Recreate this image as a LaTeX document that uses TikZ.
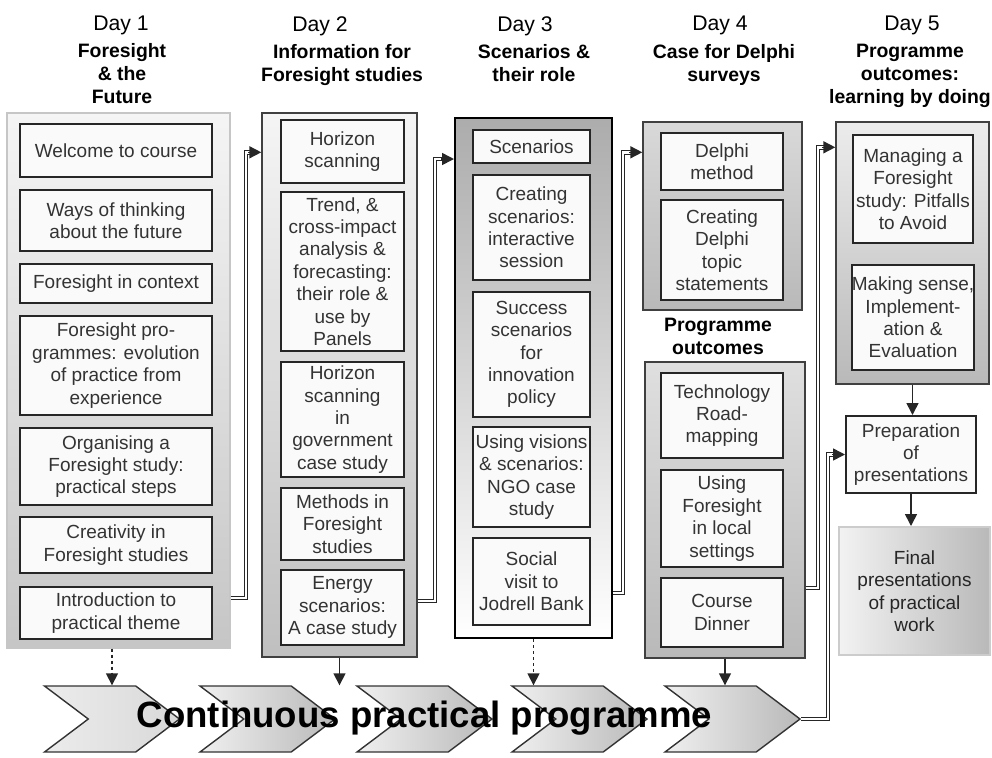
\documentclass[tikz,border=0pt]{standalone}
\usepackage{fontspec}
\setmainfont{Liberation Sans}
\usetikzlibrary{arrows.meta,positioning,shapes.symbols}

\begin{document}
\begin{tikzpicture}[
    x=0.5pt, y=-0.5pt,
    every node/.style={align=center, font=\fontsize{9.5}{11.2}\selectfont},
    panel/.style={rectangle, draw=black!75, line width=0.7pt},
    item/.style={rectangle, draw=black!85, line width=1pt, fill=gray!4, text=black!80, inner xsep=0pt, inner ysep=1pt},
    item1/.style={item, minimum width=96pt},
    item2/.style={item, minimum width=61.5pt},
    item3/.style={item, minimum width=58.5pt},
    item4/.style={item, minimum width=61pt},
    item5/.style={item, minimum width=60pt},
    dayhead/.style={anchor=north, inner sep=0pt, font=\fontsize{10.6}{12}\selectfont},
    theme/.style={anchor=north, inner sep=0pt, font=\bfseries\fontsize{9.7}{11.5}\selectfont},
    chevron/.style={signal, signal to=east, signal from=west, signal pointer angle=74, draw=black!80, line width=0.7pt, minimum width=67.5pt, minimum height=33pt, left color=gray!12, right color=gray!55},
    link/.style={draw=black!85, double=white, double distance=1.2pt, line width=0.5pt, shorten >=5pt},
    arrow/.style={draw=black!85, line width=0.8pt, -{Triangle[length=6pt,width=6pt]}},
    dotarrow/.style={arrow, dash pattern=on 1.5pt off 1.5pt}
]
\useasboundingbox (0,0) rectangle (992,757);

% Headers
\node[dayhead] (h1) at (121,16) {Day 1};
\node[theme] (t1) at (122,43) {Foresight\\\& the\\Future};
\node[dayhead] (h2) at (320,16) {Day 2};
\node[theme] (t2) at (342,44) {Information for\\Foresight studies};
\node[dayhead] (h3) at (525,16) {Day 3};
\node[theme] (t3) at (534,44) {Scenarios \&\\their role};
\node[dayhead] (h4) at (720,16) {Day 4};
\node[theme] (t4) at (724,44) {Case for Delphi\\surveys};
\node[dayhead] (h5) at (912,16) {Day 5};
\node[theme] (t5) at (910,44) {Programme\\outcomes:\\learning by doing};

% Day panels
\node[panel, draw=gray!45, top color=gray!8, bottom color=gray!45, minimum width=111.5pt, minimum height=267.5pt] (day1) at (118.5,380.5) {};
\node[panel, top color=gray!8, bottom color=gray!50, minimum width=77.5pt, minimum height=272pt] (day2) at (339.5,385) {};
\node[panel, draw=black, line width=1pt, top color=gray!65, bottom color=white, minimum width=78.5pt, minimum height=260pt] (day3) at (533.5,378) {};
\node[panel, top color=gray!30, bottom color=gray!55, minimum width=79.5pt, minimum height=94pt] (day4a) at (722.5,216) {};
\node[panel, top color=gray!25, bottom color=gray!55, minimum width=80pt, minimum height=148pt] (day4b) at (725,510) {};
\node[panel, top color=gray!15, bottom color=gray!55, minimum width=76.5pt, minimum height=131pt] (day5) at (912.5,253) {};

% Day 1 sessions
\node[item1, minimum height=26.5pt] (d1a) at (116,150.5) {Welcome to course};
\node[item1, minimum height=30.5pt] (d1b) at (116,220.5) {Ways of thinking\\about the future};
\node[item1, minimum height=19.5pt] (d1c) at (116,283.5) {Foresight in context};
\node[item1, minimum height=49.5pt] (d1d) at (116,365.5) {Foresight pro-\\grammes: evolution\\of practice from\\experience};
\node[item1, minimum height=38.5pt] (d1e) at (116,466.5) {Organising a\\Foresight study:\\practical steps};
\node[item1, minimum height=28pt] (d1f) at (116,545) {Creativity in\\Foresight studies};
\node[item1, minimum height=26pt] (d1g) at (116,613) {Introduction to\\practical theme};

% Day 2 sessions
\node[item2, minimum height=31.5pt] (d2a) at (342.5,151.5) {Horizon\\scanning};
\node[item2, minimum height=79.5pt] (d2b) at (342.5,271.5) {Trend, \&\\cross-impact\\analysis \&\\forecasting:\\their role \&\\use by\\Panels};
\node[item2, minimum height=57.5pt] (d2c) at (342.5,419.5) {Horizon\\scanning\\in\\government\\case study};
\node[item2, minimum height=36pt] (d2d) at (342.5,524) {Methods in\\Foresight\\studies};
\node[item2, minimum height=37.5pt] (d2e) at (342.5,607.5) {Energy\\scenarios:\\A case study};

% Day 3 sessions
\node[item3, minimum height=16.5pt] (d3a) at (531.5,146.5) {Scenarios};
\node[item3, minimum height=52.5pt] (d3b) at (531.5,227.5) {Creating\\scenarios:\\interactive\\session};
\node[item3, minimum height=62.5pt] (d3c) at (531.5,354.5) {Success\\scenarios\\for\\innovation\\policy};
\node[item3, minimum height=50pt] (d3d) at (531.5,477) {Using visions\\\& scenarios:\\NGO case\\study};
\node[item3, minimum height=43.5pt] (d3e) at (531.5,581.5) {Social\\visit to\\Jodrell Bank};

% Day 4 sessions
\node[item4, minimum height=28.5pt] (d4a) at (722,161.5) {Delphi\\method};
\node[item4, minimum height=50pt] (d4b) at (722,250) {Creating\\Delphi\\topic\\statements};
\node[theme] (po) at (718,318) {Programme\\outcomes};
\node[item4, minimum height=42.5pt] (d4c) at (722,415.5) {Technology\\Road-\\mapping};
\node[item4, minimum height=48.5pt] (d4d) at (722,518.5) {Using\\Foresight\\in local\\settings};
\node[item4, minimum height=34.5pt] (d4e) at (722,612.5) {Course\\Dinner};

% Day 5 sessions
\node[item5, minimum height=54pt] (d5a) at (913,189) {Managing a\\Foresight\\study: Pitfalls\\to Avoid};
\node[item5, minimum height=52.5pt] (d5b) at (913,317.5) {Making sense,\\Implement-\\ation \&\\Evaluation};
\node[item, minimum width=65pt, minimum height=38.5pt] (prep) at (911,454.5) {Preparation\\of\\presentations};
\node[item, draw=gray!40, text=black!85, left color=gray!10, right color=gray!55, minimum width=75.5pt, minimum height=64pt] (final) at (914.5,591) {Final\\presentations\\of practical\\work};

% Practical programme
\node[chevron, left color=gray!15, right color=gray!30] (chev1) at (112,719) {};
\node[chevron] (chev2) at (267.5,719) {};
\node[chevron] (chev3) at (424.5,719) {};
\node[chevron] (chev4) at (579.5,719) {};
\node[chevron] (chev5) at (732.5,719) {};
\node[anchor=base, font=\bfseries\fontsize{18.3}{20}\selectfont] (title) at (424.5,727) {Continuous practical programme};

% Connections
\coordinate (in2) at ([yshift=-20pt]day2.north west);
\coordinate (in3) at ([yshift=-21pt]day3.north west);
\coordinate (in4) at ([yshift=-15.5pt]day4a.north west);
\coordinate (in5) at ([yshift=-13pt]day5.north west);

\draw[link] ([yshift=25.5pt]day1.south east) -- ++(7.5pt,0) |- (in2);
\draw[link] ([yshift=28.5pt]day2.south east) -- ++(8.5pt,0) |- (in3);
\draw[link] ([yshift=23pt]day3.south east) -- ++(5pt,0) |- (in4);
\draw[link] ([yshift=35.5pt]day4b.south east) -- ++(6pt,0) |- (in5);
\draw[link] (chev5.east) -- ++(13.5pt,0) |- (prep.west);

\draw[arrow] ([xshift=-6.5pt]in2) -- (in2);
\draw[arrow] ([xshift=-6.5pt]in3) -- (in3);
\draw[arrow] ([xshift=-6.5pt]in4) -- (in4);
\draw[arrow] ([xshift=-6.5pt]in5) -- (in5);
\draw[arrow] ([xshift=-6.5pt]prep.west) -- (prep.west);

\draw[dotarrow] (chev1.north |- day1.south) -- (chev1.north);
\draw[arrow] (day2.south) -- (day2.south |- chev2.north);
\draw[dotarrow] (day3.south) -- (day3.south |- chev4.north);
\draw[arrow] (day4b.south) -- (day4b.south |- chev5.north);
\draw[arrow] (day5.south) -- (day5.south |- prep.north);
\draw[arrow] (prep.south) -- (prep.south |- final.north);

\end{tikzpicture}
\end{document}
